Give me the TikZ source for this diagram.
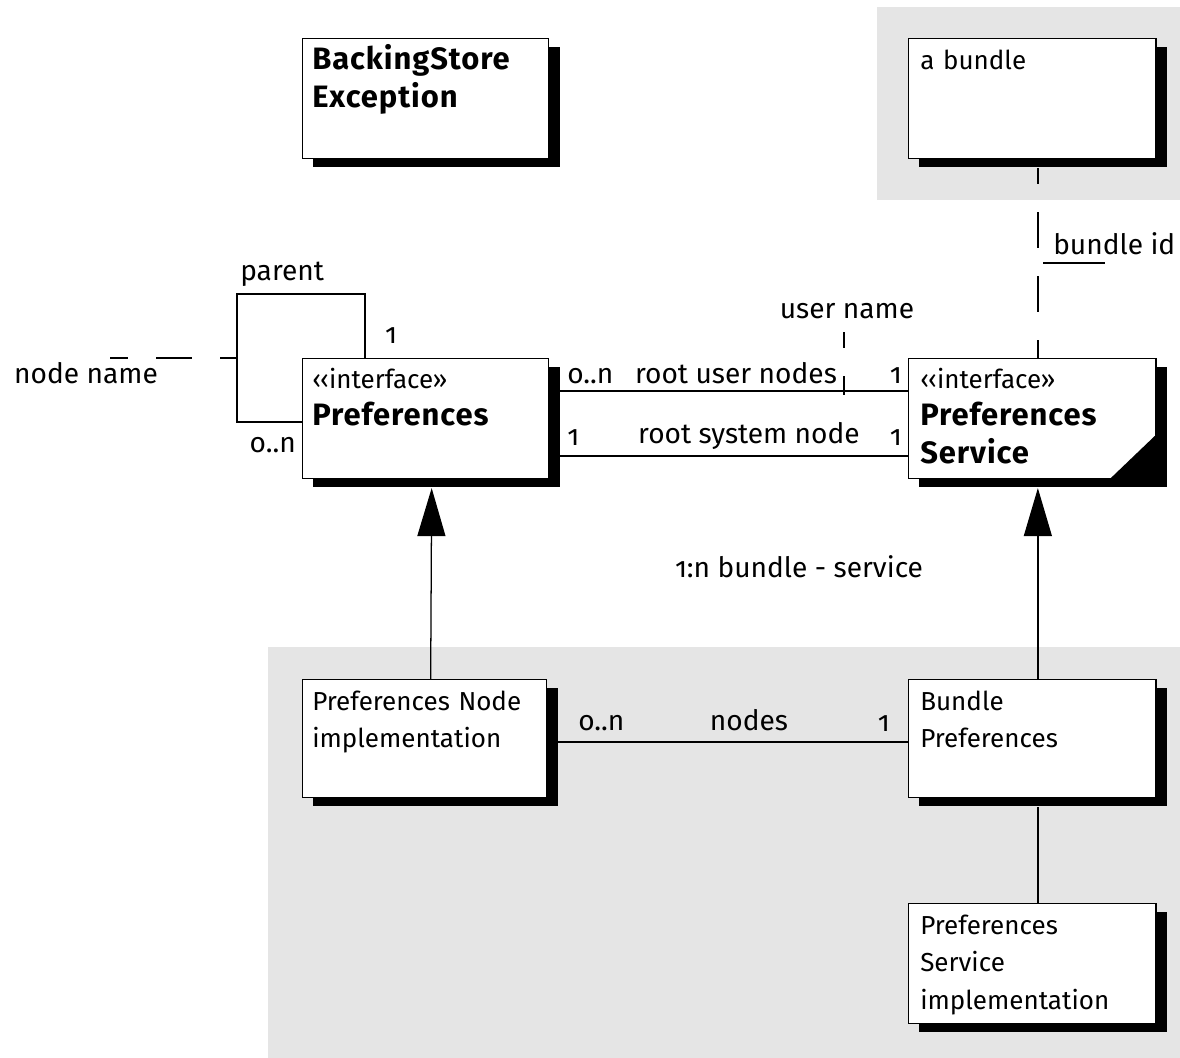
\documentclass[tikz,border=0pt]{standalone}
\usepackage{fontspec}
\setmainfont[Numbers=OldStyle]{Fira Sans}
\usetikzlibrary{arrows.meta,shadows}
\newcommand\boxtitle{\fontsize{22}{27}\selectfont\bfseries\addfontfeatures{LetterSpace=3}}
\tikzset{
    umlbox/.style={rectangle, draw=black, fill=white, line width=0.9pt, anchor=north west,
        minimum width=6.15cm, minimum height=3cm, inner sep=0,
        drop shadow={shadow xshift=0.27cm, shadow yshift=-0.22cm, opacity=1, fill=black}},
    boxtext/.style={anchor=base west, inner sep=0, align=left, text width=5.8cm,
        font=\fontsize{18.5}{27}\selectfont},
    lbl/.style={anchor=base, inner sep=0, font=\fontsize{20}{24}\selectfont},
    conn/.style={line width=0.9pt},
    qual/.style={line width=0.9pt, dash pattern=on 0.9cm off 0.7cm, dash phase=0.5cm},
    inherit/.style={line width=0.9pt, -{Triangle[length=1.2cm, width=0.7cm]}}
}
\begin{document}
\begin{tikzpicture}[x=0.025cm, y=-0.025cm]
    \useasboundingbox (0,0) rectangle (1180,1058);
    % grey areas
    \fill[black!10] (877,7) rectangle (1180,200);
    \fill[black!10] (268,647) rectangle (1180,1058);

    % classes
    \node[umlbox] (bse) at (302,38) {};
    \node[boxtext] (bse-t) at ([shift={(10,32)}]bse.north west) {\boxtitle BackingStore\\Exception};
    \node[umlbox, minimum width=6.18cm] (bun) at (908,38) {};
    \node[boxtext] (bun-t) at ([shift={(12,32)}]bun.north west) {a bundle};
    \node[umlbox] (pref) at (302,358) {};
    \node[boxtext] (pref-t) at ([shift={(10,30)}]pref.north west) {‹‹interface››\\{\boxtitle Preferences}};
    \node[umlbox, minimum width=6.18cm] (psvc) at (908,358) {};
    \node[boxtext] (psvc-t) at ([shift={(12,30)}]psvc.north west) {‹‹interface››\\{\boxtitle Preferences\\Service}};
    \fill (psvc.south east) -- ++(-47,0) -- ++(47,-45) -- cycle;
    \node[umlbox, minimum width=6.1cm, minimum height=2.95cm] (pni) at (302,679) {};
    \node[boxtext] (pni-t) at ([shift={(10,31)}]pni.north west) {Preferences Node\\implementation};
    \node[umlbox, minimum width=6.18cm, minimum height=2.95cm] (bpref) at (908,679) {};
    \node[boxtext] (bpref-t) at ([shift={(12,31)}]bpref.north west) {Bundle\\Preferences};
    \node[umlbox, minimum width=6.18cm] (psi) at (908,903) {};
    \node[boxtext] (psi-t) at ([shift={(12,31)}]psi.north west) {Preferences\\Service\\implementation};

    % generalisations
    \draw[inherit] ([xshift=0.15cm]pni.north) -- ([shift={(0.15cm,-0.22cm)}]pref.south);
    \draw[inherit] ([xshift=0.14cm]bpref.north) -- ([shift={(0.14cm,-0.22cm)}]psvc.south);
    \draw[conn] ([shift={(0.14cm,-0.22cm)}]bpref.south) -- ([xshift=0.14cm]psi.north);
    \draw[qual] ([shift={(0.14cm,-0.22cm)}]bun.south) -- ([xshift=0.14cm]psvc.north);

    % associations
    \draw[conn] ([shift={(0.27cm,-0.825cm)}]pref.north east) -- ([yshift=-0.825cm]psvc.north west);
    \draw[conn] ([shift={(0.27cm,-2.45cm)}]pref.north east) -- ([yshift=-2.45cm]psvc.north west);
    \draw[conn] ([shift={(0.27cm,-1.575cm)}]pni.north east) -- ([yshift=-1.575cm]bpref.north west);
    \draw[conn] ([xshift=1.575cm]pref.north west) |- ++(-3.2cm,1.6cm) |- ([yshift=-1.6cm]pref.north west);

    % qualifiers
    \draw[qual, dash phase=0.45cm] (110,358) -- (237,358);
    \draw[qual] (844,332) -- (844,395);
    \draw[conn] (1043,263) -- (1105,263);

    % labels
    \node[lbl, anchor=base west] (l-parent) at (240,280) {parent};
    \node[lbl] (l-p1) at (391,343) {1};
    \node[lbl, anchor=base east] (l-pn) at (296,452) {o..n};
    \node[lbl] (l-nname) at (86,383) {node name};
    \node[lbl, anchor=base west] (l-ru0) at (567,383) {o..n};
    \node[lbl] (l-ru) at (736,383) {root user nodes};
    \node[lbl, anchor=base east] (l-ru1) at (902,383) {1};
    \node[lbl, anchor=base west] (l-rs0) at (567,445) {1};
    \node[lbl] (l-rs) at (749,443) {root system node};
    \node[lbl, anchor=base east] (l-rs1) at (902,445) {1};
    \node[lbl] (l-uname) at (847,318) {user name};
    \node[lbl, anchor=base west] (l-bid) at (1053,255) {bundle id};
    \node[lbl] (l-bs) at (799,577) {1:n bundle - service};
    \node[lbl, anchor=base west] (l-n0) at (578,730) {o..n};
    \node[lbl] (l-nodes) at (749,730) {nodes};
    \node[lbl, anchor=base east] (l-n1) at (890,731) {1};
\end{tikzpicture}
\end{document}
